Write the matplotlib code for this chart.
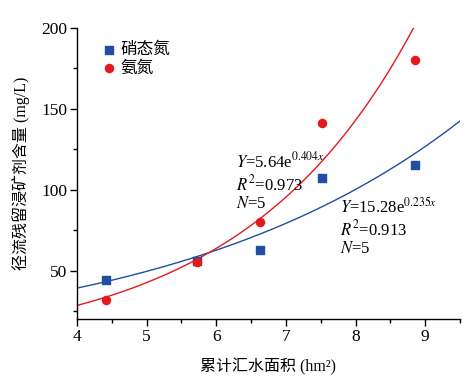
import matplotlib
matplotlib.use("Agg")
import matplotlib.pyplot as plt
import numpy as np
from matplotlib.ticker import MultipleLocator

plt.rcParams["font.family"] = ["Liberation Serif", "Noto Sans CJK SC"]
plt.rcParams["mathtext.fontset"] = "stix"

# data
area = [4.42, 5.73, 6.63, 7.52, 8.85]
nitrate = [44.0, 56.0, 62.5, 107.5, 115.5]
ammonium = [32.0, 55.0, 80.0, 141.5, 180.0]

# fitted curves Y = a * exp(b x), as printed on the chart
nitrate_fit = (15.28, 0.235)
ammonium_fit = (5.64, 0.404)

BLUE = "#1f4fa0"
RED = "#e3191c"

fig = plt.figure(figsize=(4.74, 3.83), dpi=100)
ax = fig.add_axes([0.1624, 0.167, 0.808, 0.760])

xs = np.linspace(4, 9.5, 300)
ax.plot(xs, nitrate_fit[0] * np.exp(nitrate_fit[1] * xs), color=BLUE, lw=1.0, zorder=2)
ax.plot(xs, ammonium_fit[0] * np.exp(ammonium_fit[1] * xs), color=RED, lw=1.0, zorder=2)
ax.scatter(area, nitrate, marker="s", s=30, color=BLUE, label="硝态氮", zorder=3)
ax.scatter(area, ammonium, marker="o", s=34, color=RED, label="氨氮", zorder=3)

ax.set_xlim(4, 9.5)
ax.set_ylim(20, 200)
ax.xaxis.set_major_locator(MultipleLocator(1))
ax.xaxis.set_minor_locator(MultipleLocator(0.5))
ax.yaxis.set_major_locator(MultipleLocator(50))
ax.yaxis.set_minor_locator(MultipleLocator(25))
ax.tick_params(which="major", direction="out", length=5, width=1, labelsize=12.5, pad=2)
ax.tick_params(which="minor", direction="out", length=3, width=1)
for s in ("top", "right"):
    ax.spines[s].set_visible(False)
for s in ("left", "bottom"):
    ax.spines[s].set_linewidth(1)

ax.set_xlabel("累计汇水面积 (hm²)", fontsize=11.5, labelpad=10)
ax.set_ylabel("径流残留浸矿剂含量 (mg/L)", fontsize=11.5, labelpad=8)

ax.legend(loc="upper left", bbox_to_anchor=(0.035, 0.985), frameon=False, fontsize=12,
          handletextpad=0.2, labelspacing=0.15, borderaxespad=0.2, handlelength=1.0)

ax.text(0.415, 0.575, "$Y$=5.64e$^{0.404x}$\n$R^2$=0.973\n$N$=5", transform=ax.transAxes,
        fontsize=12, va="top", ha="left", linespacing=1.15)
ax.text(0.687, 0.42, "$Y$=15.28e$^{0.235x}$\n$R^2$=0.913\n$N$=5", transform=ax.transAxes,
        fontsize=12, va="top", ha="left", linespacing=1.15)

fig.savefig("out.png", dpi=100)
